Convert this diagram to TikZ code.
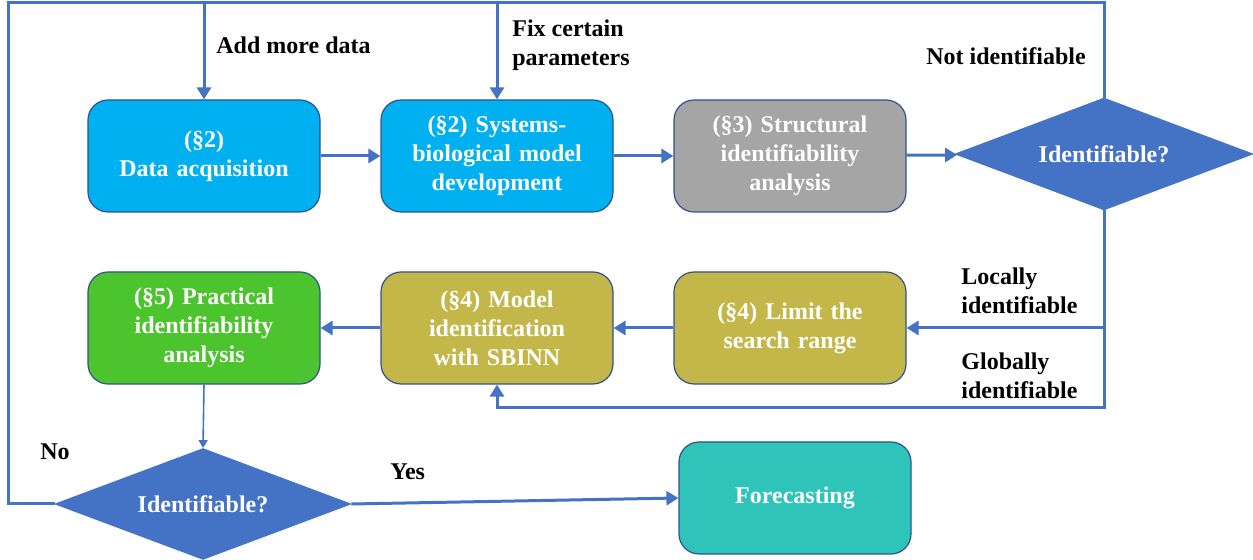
\documentclass[tikz,border=0pt]{standalone}
\usepackage{fontspec}
\setmainfont{Liberation Serif}
\usetikzlibrary{shapes.geometric,arrows.meta}
\definecolor{flowblue}{HTML}{4472C4}
\definecolor{edgeblue}{HTML}{2F528F}
\definecolor{skyblue}{HTML}{00B0F0}
\definecolor{stepgray}{HTML}{A5A5A5}
\definecolor{stepolive}{HTML}{C3B74A}
\definecolor{stepgreen}{HTML}{4CC42D}
\definecolor{stepteal}{HTML}{2EC4BA}
\begin{document}
\begin{tikzpicture}[x=0.5pt,y=-0.5pt,
	box/.style={rectangle,rounded corners=10pt,draw=edgeblue,line width=0.6pt,minimum width=116pt,minimum height=56pt,text width=110pt,inner sep=0pt,align=center,text=white,font=\bfseries\fontsize{12}{14.5}\selectfont},
	decision/.style={diamond,fill=flowblue,draw=flowblue,inner sep=0pt,text=white,font=\bfseries\fontsize{12}{14.5}\selectfont},
	flow/.style={draw=flowblue,line width=1.5pt},
	tip/.style={-{Triangle[length=6pt,width=7pt]}},
	lbl/.style={anchor=west,align=left,inner sep=0pt,font=\bfseries\fontsize{12}{14.5}\selectfont}]
	\useasboundingbox (0,0) rectangle (1253,560);
	% first row
	\node [box,fill=skyblue] (data) at (204,156) {(\S2)\\Data acquisition};
	\node [box,fill=skyblue] (model) at (497,156) {(\S2) Systems-\\biological model\\development};
	\node [box,fill=stepgray] (struct) at (790,156) {(\S3) Structural\\identifiability\\analysis};
	\node [decision,aspect=2.66,minimum width=149pt,minimum height=56pt] (ident1) at (1104,154) {Identifiable?};
	% second row
	\node [box,fill=stepolive] (limit) at (790,328) {(\S4) Limit the\\search range};
	\node [box,fill=stepolive] (sbinn) at (497,328) {(\S4) Model\\identification\\with SBINN};
	\node [box,fill=stepgreen] (practical) at (204,328) {(\S5) Practical\\identifiability\\analysis};
	% third row
	\node [decision,aspect=2.66,minimum width=148pt,minimum height=55.5pt] (ident2) at (203,504) {Identifiable?};
	\node [box,fill=stepteal] (forecast) at (795,498) {Forecasting};
	% loop points
	\coordinate (loopL) at (8,3);
	\coordinate (loopR) at (1104,3);
	\coordinate (glob) at (1104,408);
	% connectors
	\draw [flow,tip] (data) -- (model);
	\draw [flow,tip] (model) -- (struct);
	\draw [flow,tip] (struct) -- (ident1);
	\draw [flow] (ident2.west) -| (loopL) -- (loopR) -- (ident1.north);
	\draw [flow,tip] (data.north |- loopL) -- (data.north);
	\draw [flow,tip] (model.north |- loopL) -- (model.north);
	\draw [flow,tip] (ident1.south) |- (limit.east);
	\draw [flow,tip] (ident1.south) -- (glob) -| (sbinn.south);
	\draw [flow,tip] (limit) -- (sbinn);
	\draw [flow,tip] (sbinn) -- (practical);
	\draw [draw=flowblue,line width=0.8pt,-{Triangle[length=4pt,width=4.5pt]}] (practical.south) -- (ident2.north);
	\draw [flow,tip] (ident2.east) -- (forecast.west);
	% labels
	\node [lbl] (addlbl) at (216,45) {Add more data};
	\node [lbl] (fixlbl) at (512,45) {Fix certain\\parameters};
	\node [lbl] (notlbl) at (926,56) {Not identifiable};
	\node [lbl] (loclbl) at (961,291) {Locally\\identifiable};
	\node [lbl] (globlbl) at (961,376) {Globally\\identifiable};
	\node [lbl] (nolbl) at (40,452) {No};
	\node [lbl] (yeslbl) at (390,472) {Yes};
\end{tikzpicture}
\end{document}
